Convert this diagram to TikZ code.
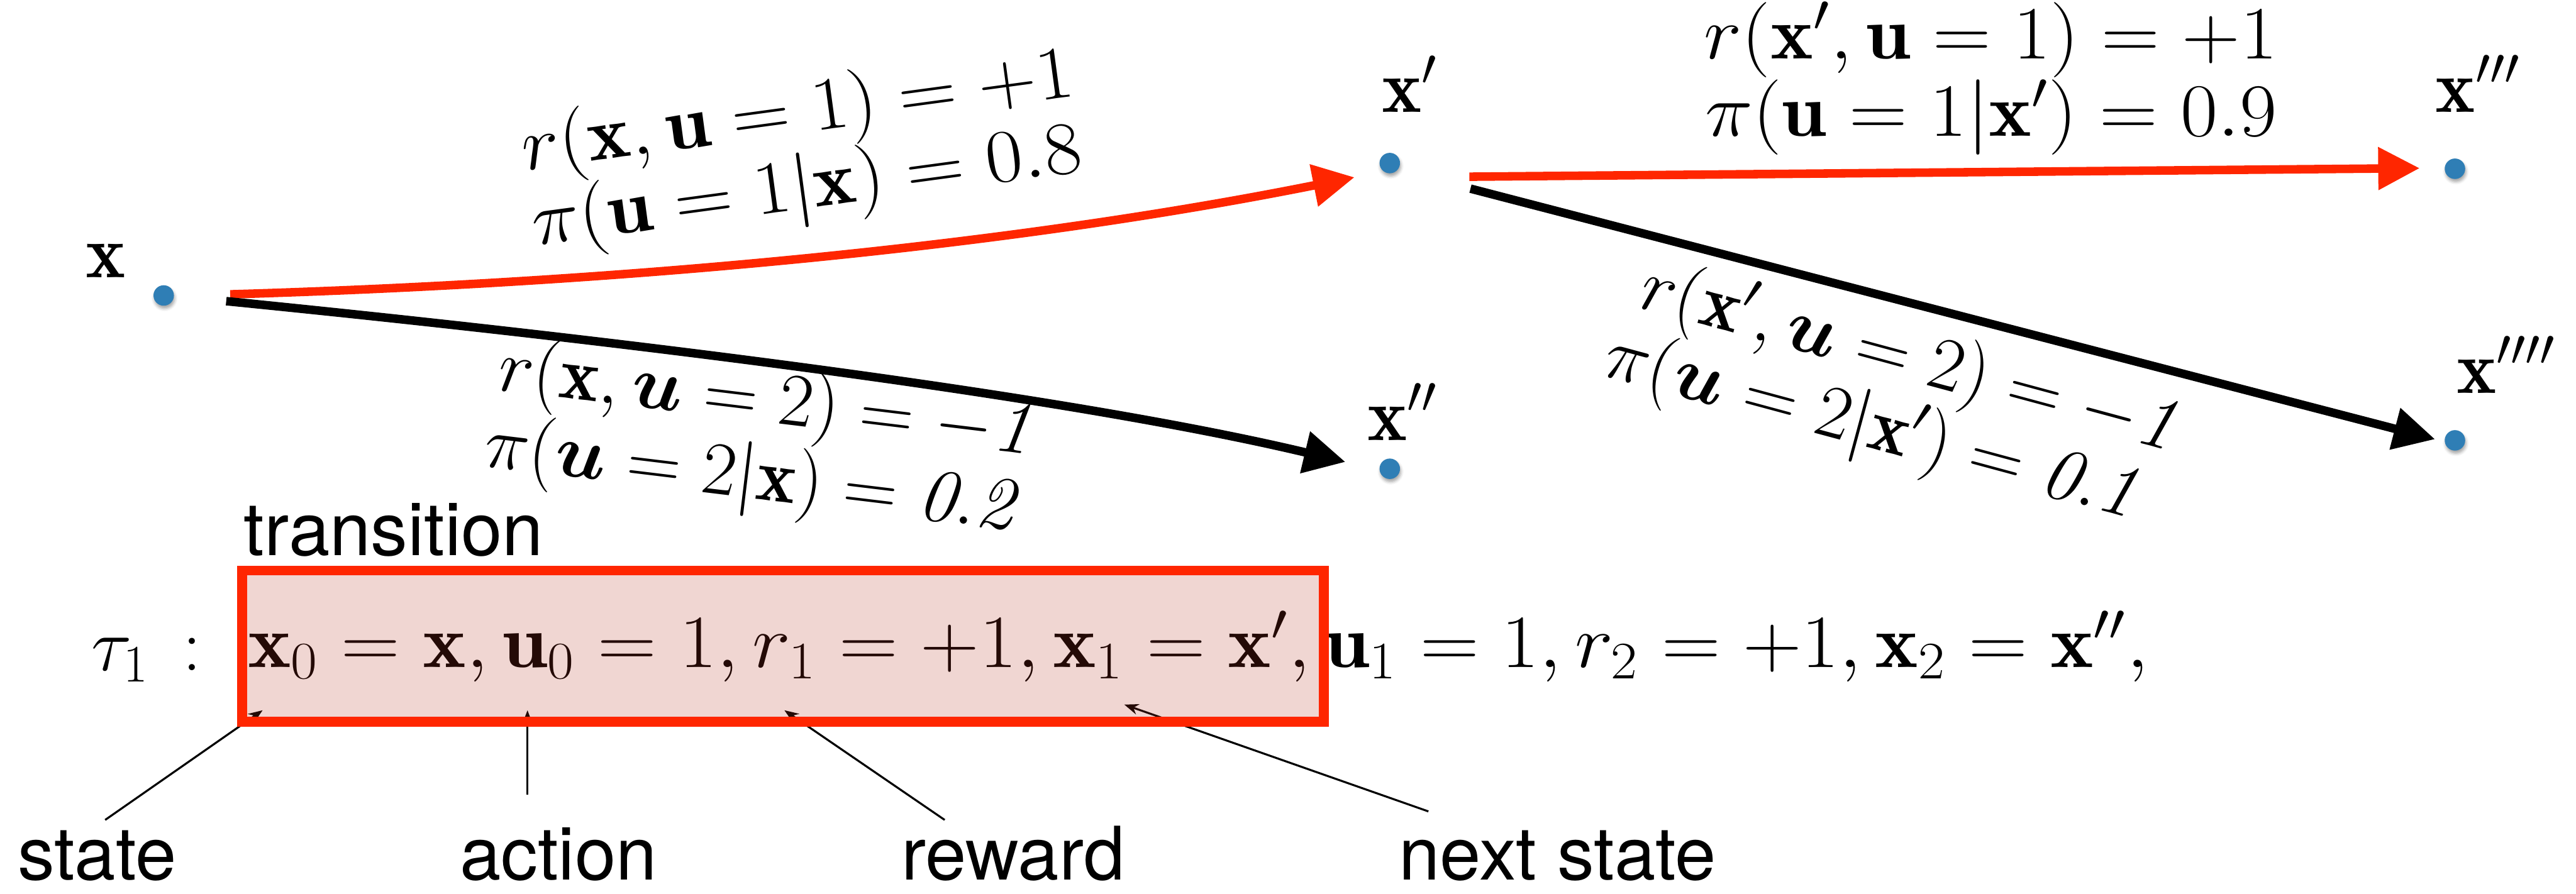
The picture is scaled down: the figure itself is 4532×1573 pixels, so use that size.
\RequirePackage{fix-cm}
\documentclass[tikz,border=0pt]{standalone}
\usepackage{graphicx}
\usepackage{amsmath,amssymb}
\usepackage{fontspec}
\setsansfont{TeX Gyre Heros}
\usetikzlibrary{arrows.meta,shadows.blur}
\definecolor{kred}{RGB}{255,38,0}
\definecolor{kblue}{RGB}{47,126,181}
\definecolor{kpink}{RGB}{180,50,30}
\newcommand{\fx}[2][1.073]{\scalebox{#1}[1]{#2}}
\begin{document}
\begin{tikzpicture}[x=0.2pt,y=-0.2pt,
  mathlbl/.style={inner sep=0pt, anchor=base west, font=\fontsize{26.5}{27.5}\selectfont},
  sanslbl/.style={inner sep=0pt, anchor=base west, font=\sffamily\fontsize{26}{28}\selectfont},
  statedot/.style={circle, fill=kblue, minimum size=7.2pt, inner sep=0pt,
    blur shadow={shadow xshift=0.3pt, shadow yshift=-1pt, shadow blur radius=1pt, shadow opacity=35}},
  bigarrow/.style={line width=3pt, -{Triangle[length=14.6pt,width=14.4pt]}},
  pointer/.style={line width=0.7pt, -{Stealth[length=5pt,width=3.8pt]}}]
\useasboundingbox (0,0) rectangle (4532,1573);

% states
\node[statedot] (x) at (288,520) {};
\node[statedot] (xp) at (2445,287) {};
\node[statedot] (xpp) at (2445,825) {};
\node[statedot] (xppp) at (4319,297) {};
\node[statedot] (xpppp) at (4319,775) {};

\node[mathlbl] (lx) at (150,488) {$\mathbf{x}$};
\node[mathlbl] (lxp) at (2430,198) {$\mathbf{x}'$};
\node[mathlbl] (lxpp) at (2405,775) {$\mathbf{x}''$};
\node[mathlbl] (lxppp) at (4284,197) {$\mathbf{x}'''$};
\node[mathlbl] (lxpppp) at (4321,692) {$\mathbf{x}''''$};

% transitions
\coordinate (a1s) at (405,518); \coordinate (a1e) at (2383,312);
\draw[bigarrow, kred] (a1s) .. controls (1148,496) and (1808,427) .. (a1e);
\coordinate (a2s) at (398,530); \coordinate (a2e) at (2367,813);
\draw[bigarrow, black] (a2s) .. controls (1300,620) and (1956,715) .. (a2e);
\coordinate (a3s) at (2585,311); \coordinate (a3e) at (4257,296);
\draw[bigarrow, kred] (a3s) -- (a3e);
\coordinate (a4s) at (2587,332); \coordinate (a4e) at (4284,773);
\draw[bigarrow, black] (a4s) -- (a4e);

% transition labels
\node[mathlbl, rotate=7.7] (l1a) at (922,300) {\fx{$r(\mathbf{x},\mathbf{u}=1)=+1$}};
\node[mathlbl, rotate=7.7] (l1b) at (940,432) {\fx{$\pi(\mathbf{u}=1|\mathbf{x})=0.8$}};
\node[mathlbl, rotate=-6.9] (l2a) at (872,686) {$r(\mathbf{x},\boldsymbol{u}=2)=-\mathit{1}$};
\node[mathlbl, rotate=-6.9] (l2b) at (848,820) {$\pi(\boldsymbol{u}=2|\mathbf{x})=\mathit{0.2}$};
\node[mathlbl] (l4a) at (2997,103) {\fx{$r(\mathbf{x}',\mathbf{u}=1)=+1$}};
\node[mathlbl] (l4b) at (2999,240) {\fx{$\pi(\mathbf{u}=1|\mathbf{x}')=0.9$}};
\node[mathlbl, rotate=-15.1] (l3a) at (2878,540) {$r(\mathbf{x}',\boldsymbol{u}=2)=-\mathit{1}$};
\node[mathlbl, rotate=-15.1] (l3b) at (2815,660) {$\pi(\boldsymbol{u}=2|\mathbf{x}')=\mathit{0.1}$};

% trajectory
\node[sanslbl] (trans) at (428,978) {transition};
\node[mathlbl] (tau) at (160,1180) {$\tau_1\,:$};
\node[mathlbl] (seq) at (435,1175) {\fx[1.085]{$\mathbf{x}_0=\mathbf{x},\mathbf{u}_0=1,r_1=+1,\mathbf{x}_1=\mathbf{x}',\mathbf{u}_1=1,r_2=+1,\mathbf{x}_2=\mathbf{x}'',$}};

% annotations
\node[sanslbl] (state) at (30,1548) {state};
\node[sanslbl] (action) at (808,1548) {action};
\node[sanslbl] (reward) at (1585,1548) {reward};
\node[sanslbl] (next) at (2460,1548) {next state};
\coordinate (ps) at (185,1443); \coordinate (pst) at (462,1250);
\coordinate (pa) at (928,1398); \coordinate (pat) at (928,1250);
\coordinate (pr) at (1662,1443); \coordinate (prt) at (1380,1250);
\coordinate (pn) at (2513,1428); \coordinate (pnt) at (1978,1240);
\draw[pointer] (ps) -- (pst);
\draw[pointer] (pa) -- (pat);
\draw[pointer] (pr) -- (prt);
\draw[pointer] (pn) -- (pnt);

% transition box
\node[draw=kred, line width=3.4pt, fill=kpink, fill opacity=0.2, draw opacity=1,
  minimum width=380.6pt, minimum height=53.2pt, inner sep=0pt] (box) at (1377.5,1137) {};
\end{tikzpicture}
\end{document}
